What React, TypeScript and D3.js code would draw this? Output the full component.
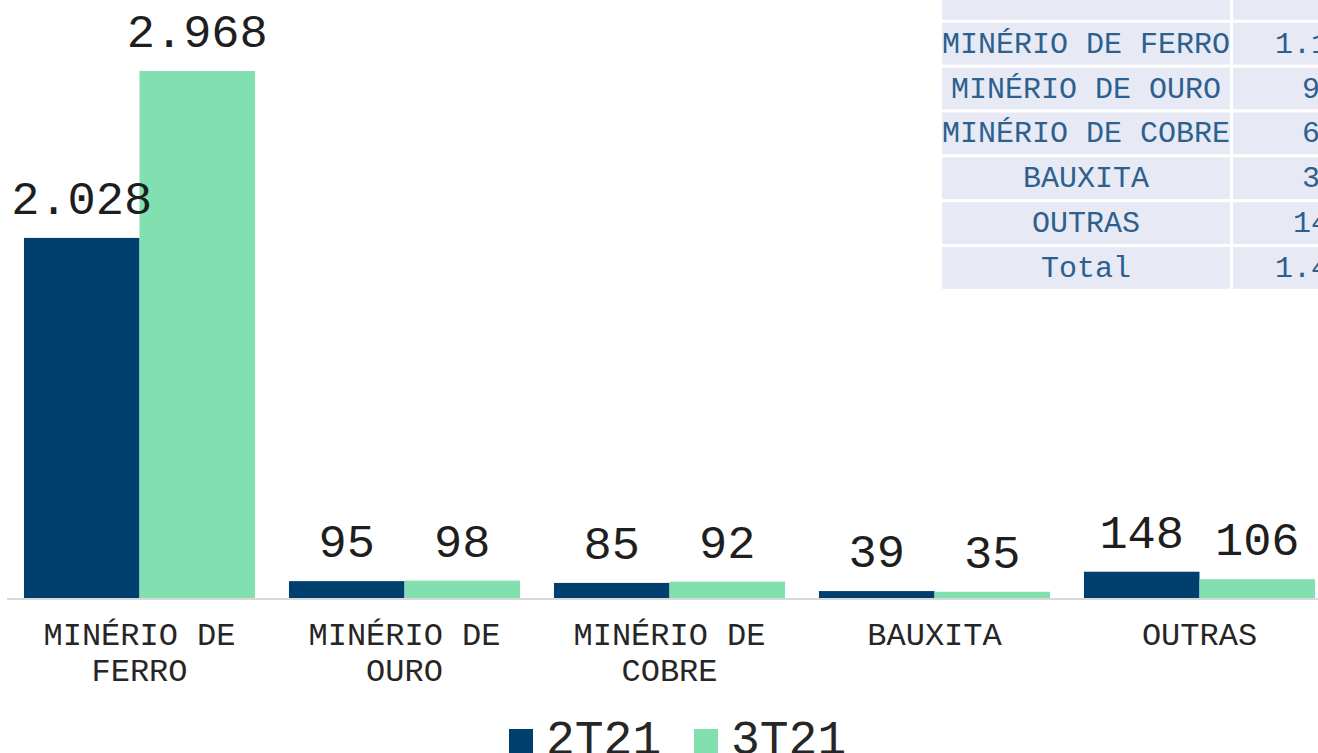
import React from "react";
import * as d3 from "d3";

const categories = [
  ["MINÉRIO DE", "FERRO"],
  ["MINÉRIO DE", "OURO"],
  ["MINÉRIO DE", "COBRE"],
  ["BAUXITA"],
  ["OUTRAS"],
];
const seriesNames = ["2T21", "3T21"];
const values2T21 = [2028, 95, 85, 39, 148];
const values3T21 = [2968, 98, 92, 35, 106];
const colors = ["#003f6e", "#82e0b0"];

// side table (partly cut off on the right)
const tableLabels = ["MINÉRIO DE FERRO", "MINÉRIO DE OURO", "MINÉRIO DE COBRE", "BAUXITA", "OUTRAS", "Total"];
const tableValues = ["1.139", "93", "66", "36", "145", "1.479"];

const W = 1318;
const H = 753;
const font = "'Courier New', 'Liberation Mono', monospace";

const fmt = (v: number) => d3.format(",")(v).replace(/,/g, ".");

export default function App() {
  const keys = categories.map((c) => c.join(" "));
  const x = d3.scaleBand().domain(keys).range([7, 1332]).paddingInner(0.128).paddingOuter(0.064);
  const xs = d3.scaleBand().domain(seriesNames).range([0, x.bandwidth()]);
  const y = d3.scaleLinear().domain([0, 2968]).range([598, 71]);
  const series = [values2T21, values3T21];

  const rowKeys = ["header", ...tableLabels];
  const rowY = d3.scaleBand().domain(rowKeys).range([-22, -22 + rowKeys.length * 44.4]).paddingInner(0.07);

  return (
    <svg width={W} height={H} style={{ position: "absolute", left: 0, top: 0, background: "#fff" }}>
      {/* table */}
      <g fontFamily={font} fontSize={30} fill="#2d5f8f">
        {rowKeys.map((k, i) => {
          const top = rowY(k)!;
          const h = rowY.bandwidth();
          return (
            <g key={k}>
              <rect x={942} y={top} width={288} height={h} fill="#e7eaf4" />
              <rect x={1233} y={top} width={174} height={h} fill="#e7eaf4" />
              {i > 0 && (
                <>
                  <text x={1086} y={top + h / 2 + 9} textAnchor="middle">{tableLabels[i - 1]}</text>
                  <text x={1320} y={top + h / 2 + 9} textAnchor="middle">{tableValues[i - 1]}</text>
                </>
              )}
            </g>
          );
        })}
      </g>

      {/* bars */}
      {keys.map((k, ci) => (
        <g key={k} transform={`translate(${x(k)},0)`}>
          {seriesNames.map((s, si) => (
            <rect
              key={s}
              x={xs(s)}
              y={y(series[si][ci])}
              width={xs.bandwidth()}
              height={y(0) - y(series[si][ci])}
              fill={colors[si]}
            />
          ))}
        </g>
      ))}

      {/* axis line */}
      <line x1={7} x2={W} y1={y(0) + 1} y2={y(0) + 1} stroke="#d9d9d9" strokeWidth={2} />

      {/* value labels */}
      <g fontFamily={font} fontSize={47} fill="#1e1e1e" textAnchor="middle">
        {keys.map((k, ci) =>
          seriesNames.map((s, si) => (
            <text key={k + s} x={x(k)! + xs(s)! + xs.bandwidth() / 2} y={y(series[si][ci]) - 24}>
              {fmt(series[si][ci])}
            </text>
          ))
        )}
      </g>

      {/* category labels */}
      <g fontFamily={font} fontSize={32} fill="#262626" textAnchor="middle">
        {categories.map((lines, ci) => (
          <text key={ci} x={x(keys[ci])! + x.bandwidth() / 2} y={645}>
            {lines.map((ln, li) => (
              <tspan key={li} x={x(keys[ci])! + x.bandwidth() / 2} dy={li === 0 ? 0 : 36}>
                {ln}
              </tspan>
            ))}
          </text>
        ))}
      </g>

      {/* legend */}
      <g fontFamily={font} fontSize={48} fill="#262626">
        {seriesNames.map((s, si) => {
          const lx = 509 + si * 185;
          return (
            <g key={s}>
              <rect x={lx} y={729} width={24} height={24} fill={colors[si]} />
              <text x={lx + 37} y={754}>{s}</text>
            </g>
          );
        })}
      </g>
    </svg>
  );
}
